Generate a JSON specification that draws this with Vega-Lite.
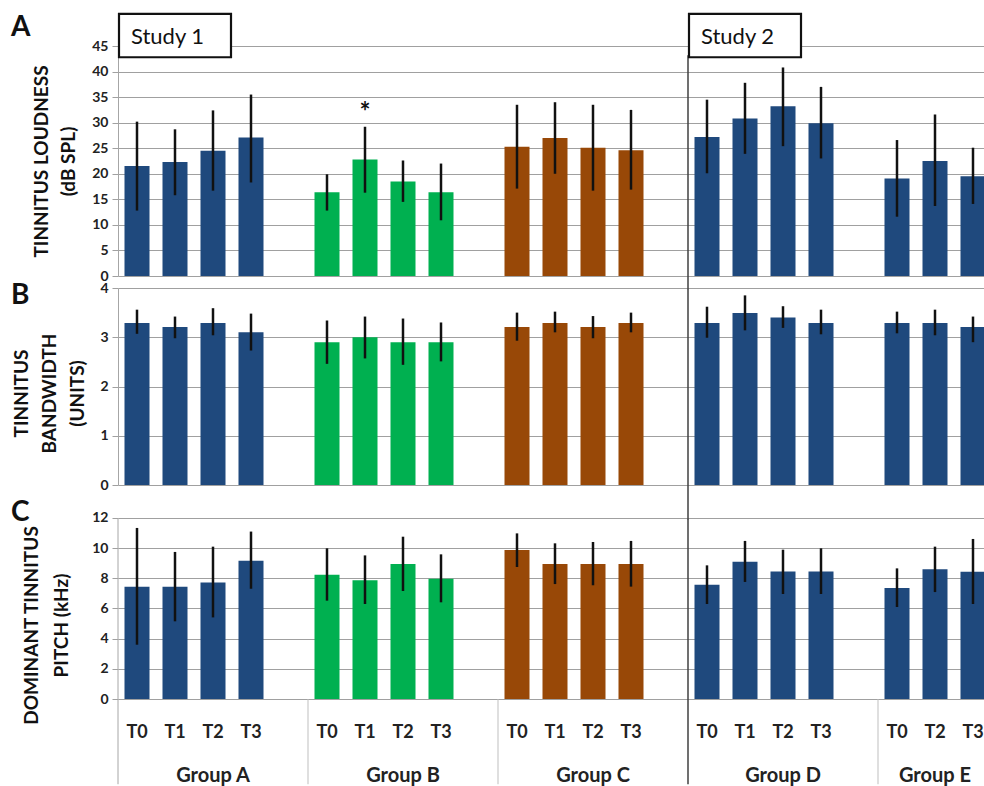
{
  "$schema": "https://vega.github.io/schema/vega-lite/v6.json",
  "padding": {"left": 11, "top": 12, "right": 0, "bottom": 0},
  "background": "white",
  "config": {
    "font": "Lato",
    "view": {"stroke": null},
    "axis": {"labelFont": "Lato", "titleFont": "Lato"},
    "axisY": {"gridColor": "#a0a0a0", "domainColor": "#a6a6a6", "tickColor": "#a0a0a0", "tickSize": 6, "labelFontSize": 14, "labelFontWeight": "bold", "labelColor": "#222222", "labelPadding": 4, "titleFontSize": 19, "titleFontWeight": "bold", "titleColor": "#111111"},
    "axisX": {"grid": false},
    "title": {"font": "Lato", "fontSize": 28, "fontWeight": "bold", "color": "#111111", "anchor": "start", "frame": "group", "baseline": "alphabetic"}
  },
  "datasets": {
    "loud": [
      {"g": "A", "cat": "A|T0", "m": 21.5, "lo": 12.8, "hi": 30.2},
      {"g": "A", "cat": "A|T1", "m": 22.3, "lo": 15.8, "hi": 28.7},
      {"g": "A", "cat": "A|T2", "m": 24.5, "lo": 16.7, "hi": 32.4},
      {"g": "A", "cat": "A|T3", "m": 27.1, "lo": 18.3, "hi": 35.5},
      {"g": "B", "cat": "B|T0", "m": 16.4, "lo": 12.8, "hi": 19.9},
      {"g": "B", "cat": "B|T1", "m": 22.8, "lo": 16.3, "hi": 29.2},
      {"g": "B", "cat": "B|T2", "m": 18.5, "lo": 14.5, "hi": 22.6},
      {"g": "B", "cat": "B|T3", "m": 16.4, "lo": 10.9, "hi": 22.0},
      {"g": "C", "cat": "C|T0", "m": 25.3, "lo": 17.1, "hi": 33.5},
      {"g": "C", "cat": "C|T1", "m": 27.0, "lo": 20.0, "hi": 34.0},
      {"g": "C", "cat": "C|T2", "m": 25.1, "lo": 16.7, "hi": 33.5},
      {"g": "C", "cat": "C|T3", "m": 24.6, "lo": 16.9, "hi": 32.5},
      {"g": "D", "cat": "D|T0", "m": 27.2, "lo": 20.1, "hi": 34.5},
      {"g": "D", "cat": "D|T1", "m": 30.8, "lo": 23.9, "hi": 37.8},
      {"g": "D", "cat": "D|T2", "m": 33.2, "lo": 25.4, "hi": 40.8},
      {"g": "D", "cat": "D|T3", "m": 29.9, "lo": 23.0, "hi": 37.0},
      {"g": "E", "cat": "E|T0", "m": 19.1, "lo": 11.6, "hi": 26.6},
      {"g": "E", "cat": "E|T2", "m": 22.5, "lo": 13.7, "hi": 31.6},
      {"g": "E", "cat": "E|T3", "m": 19.5, "lo": 14.1, "hi": 25.1}
    ],
    "bw": [
      {"g": "A", "cat": "A|T0", "m": 3.29, "lo": 3.07, "hi": 3.56},
      {"g": "A", "cat": "A|T1", "m": 3.21, "lo": 2.98, "hi": 3.42},
      {"g": "A", "cat": "A|T2", "m": 3.29, "lo": 3.04, "hi": 3.59},
      {"g": "A", "cat": "A|T3", "m": 3.10, "lo": 2.73, "hi": 3.48},
      {"g": "B", "cat": "B|T0", "m": 2.90, "lo": 2.46, "hi": 3.34},
      {"g": "B", "cat": "B|T1", "m": 3.00, "lo": 2.57, "hi": 3.42},
      {"g": "B", "cat": "B|T2", "m": 2.90, "lo": 2.44, "hi": 3.38},
      {"g": "B", "cat": "B|T3", "m": 2.90, "lo": 2.51, "hi": 3.30},
      {"g": "C", "cat": "C|T0", "m": 3.21, "lo": 2.93, "hi": 3.50},
      {"g": "C", "cat": "C|T1", "m": 3.29, "lo": 3.10, "hi": 3.52},
      {"g": "C", "cat": "C|T2", "m": 3.21, "lo": 2.98, "hi": 3.43},
      {"g": "C", "cat": "C|T3", "m": 3.29, "lo": 3.10, "hi": 3.50},
      {"g": "D", "cat": "D|T0", "m": 3.29, "lo": 2.99, "hi": 3.62},
      {"g": "D", "cat": "D|T1", "m": 3.49, "lo": 3.14, "hi": 3.85},
      {"g": "D", "cat": "D|T2", "m": 3.40, "lo": 3.19, "hi": 3.63},
      {"g": "D", "cat": "D|T3", "m": 3.29, "lo": 3.06, "hi": 3.56},
      {"g": "E", "cat": "E|T0", "m": 3.29, "lo": 3.08, "hi": 3.52},
      {"g": "E", "cat": "E|T2", "m": 3.29, "lo": 3.04, "hi": 3.56},
      {"g": "E", "cat": "E|T3", "m": 3.21, "lo": 2.90, "hi": 3.42}
    ],
    "pitch": [
      {"g": "A", "cat": "A|T0", "m": 7.45, "lo": 3.60, "hi": 11.34},
      {"g": "A", "cat": "A|T1", "m": 7.45, "lo": 5.15, "hi": 9.75},
      {"g": "A", "cat": "A|T2", "m": 7.73, "lo": 5.41, "hi": 10.10},
      {"g": "A", "cat": "A|T3", "m": 9.17, "lo": 7.31, "hi": 11.10},
      {"g": "B", "cat": "B|T0", "m": 8.24, "lo": 6.52, "hi": 9.99},
      {"g": "B", "cat": "B|T1", "m": 7.87, "lo": 6.30, "hi": 9.52},
      {"g": "B", "cat": "B|T2", "m": 8.95, "lo": 7.16, "hi": 10.76},
      {"g": "B", "cat": "B|T3", "m": 7.98, "lo": 6.41, "hi": 9.59},
      {"g": "C", "cat": "C|T0", "m": 9.88, "lo": 8.75, "hi": 10.98},
      {"g": "C", "cat": "C|T1", "m": 8.95, "lo": 7.62, "hi": 10.32},
      {"g": "C", "cat": "C|T2", "m": 8.95, "lo": 7.54, "hi": 10.41},
      {"g": "C", "cat": "C|T3", "m": 8.95, "lo": 7.45, "hi": 10.48},
      {"g": "D", "cat": "D|T0", "m": 7.58, "lo": 6.30, "hi": 8.86},
      {"g": "D", "cat": "D|T1", "m": 9.10, "lo": 7.76, "hi": 10.48},
      {"g": "D", "cat": "D|T2", "m": 8.46, "lo": 6.96, "hi": 9.90},
      {"g": "D", "cat": "D|T3", "m": 8.46, "lo": 6.96, "hi": 9.99},
      {"g": "E", "cat": "E|T0", "m": 7.36, "lo": 6.10, "hi": 8.66},
      {"g": "E", "cat": "E|T2", "m": 8.60, "lo": 7.09, "hi": 10.10},
      {"g": "E", "cat": "E|T3", "m": 8.44, "lo": 6.30, "hi": 10.61}
    ],
    "study": [{"cat": "A|T1", "label": "Study 1"}, {"cat": "D|T1", "label": "Study 2"}],
    "star": [{"cat": "B|T1", "label": "*"}],
    "divider": [{"cat": "D|T0"}],
    "seps": [{"cat": "B|T0"}, {"cat": "C|T0"}, {"cat": "E|T0"}],
    "yline": [{"cat": "A|T0"}],
    "groups": [
      {"cat": "A|T2", "label": "Group A"},
      {"cat": "B|T2", "label": "Group B"},
      {"cat": "C|T2", "label": "Group C"},
      {"cat": "D|T2", "label": "Group D"},
      {"cat": "E|T2", "label": "Group E"}
    ]
  },
  "spacing": 12,
  "bounds": "flush",
  "vconcat": [
    {
      "width": 866,
      "height": 230,
      "title": {"text": "A", "dx": -107, "offset": -29},
      "layer": [
        {
          "data": {"name": "loud"},
          "mark": {"type": "bar", "width": 25, "clip": true},
          "encoding": {
            "x": {"field": "cat", "type": "nominal", "scale": {"domain": ["A|T0","A|T1","A|T2","A|T3","A|_","B|T0","B|T1","B|T2","B|T3","B|_","C|T0","C|T1","C|T2","C|T3","C|_","D|T0","D|T1","D|T2","D|T3","D|_","E|T0","E|T2","E|T3"], "range": [0, 874], "paddingInner": 0, "paddingOuter": 0}, "axis": null},
            "y": {"field": "m", "type": "quantitative", "scale": {"domain": [0, 45], "nice": false}, "axis": {"title": ["TINNITUS LOUDNESS", "(dB SPL)"], "values": [0, 5, 10, 15, 20, 25, 30, 35, 40, 45], "titleLineHeight": 27, "titlePadding": 13}},
            "color": {"field": "g", "type": "nominal", "scale": {"domain": ["A", "B", "C", "D", "E"], "range": ["#1F497D", "#00B050", "#984807", "#1F497D", "#1F497D"]}, "legend": null}
          }
        },
        {
          "data": {"name": "loud"},
          "mark": {"type": "rule", "color": "#111111", "strokeWidth": 2.5},
          "encoding": {
            "x": {"field": "cat", "type": "nominal", "axis": null},
            "y": {"field": "lo", "type": "quantitative", "axis": {"title": ["TINNITUS LOUDNESS", "(dB SPL)"], "values": [0, 5, 10, 15, 20, 25, 30, 35, 40, 45], "titleLineHeight": 27, "titlePadding": 13}},
            "y2": {"field": "hi"}
          }
        },
        {
          "data": {"name": "star"},
          "mark": {"type": "text", "fontSize": 26, "fontWeight": "bold", "baseline": "alphabetic", "color": "#111111"},
          "encoding": {
            "x": {"field": "cat", "type": "nominal", "axis": null},
            "y": {"datum": 30.4, "type": "quantitative", "axis": {"title": ["TINNITUS LOUDNESS", "(dB SPL)"], "values": [0, 5, 10, 15, 20, 25, 30, 35, 40, 45], "titleLineHeight": 27, "titlePadding": 13}},
            "text": {"field": "label"}
          }
        },
        {
          "data": {"name": "divider"},
          "mark": {"type": "rule", "color": "#404040", "strokeWidth": 1.5},
          "encoding": {
            "x": {"field": "cat", "type": "nominal", "bandPosition": 0, "axis": null},
            "y": {"datum": 43.2, "type": "quantitative", "axis": {"title": ["TINNITUS LOUDNESS", "(dB SPL)"], "values": [0, 5, 10, 15, 20, 25, 30, 35, 40, 45], "titleLineHeight": 27, "titlePadding": 13}},
            "y2": {"datum": -2.6}
          }
        },
        {
          "data": {"name": "study"},
          "mark": {"type": "bar", "width": 112, "fill": "white", "stroke": "#111111", "strokeWidth": 2.2},
          "encoding": {
            "x": {"field": "cat", "type": "nominal", "axis": null},
            "y": {"datum": 51.3, "type": "quantitative", "axis": {"title": ["TINNITUS LOUDNESS", "(dB SPL)"], "values": [0, 5, 10, 15, 20, 25, 30, 35, 40, 45], "titleLineHeight": 27, "titlePadding": 13}},
            "y2": {"datum": 42.8}
          }
        },
        {
          "data": {"name": "study"},
          "mark": {"type": "text", "fontSize": 22, "align": "left", "baseline": "alphabetic", "dx": -44, "color": "#111111"},
          "encoding": {
            "x": {"field": "cat", "type": "nominal", "axis": null},
            "y": {"datum": 45.4, "type": "quantitative", "axis": {"title": ["TINNITUS LOUDNESS", "(dB SPL)"], "values": [0, 5, 10, 15, 20, 25, 30, 35, 40, 45], "titleLineHeight": 27, "titlePadding": 13}},
            "text": {"field": "label"}
          }
        }
      ]
    },
    {
      "width": 866,
      "height": 197,
      "title": {"text": "B", "dx": -107, "offset": -29},
      "layer": [
        {
          "data": {"name": "bw"},
          "mark": {"type": "bar", "width": 25, "clip": true},
          "encoding": {
            "x": {"field": "cat", "type": "nominal", "scale": {"domain": ["A|T0","A|T1","A|T2","A|T3","A|_","B|T0","B|T1","B|T2","B|T3","B|_","C|T0","C|T1","C|T2","C|T3","C|_","D|T0","D|T1","D|T2","D|T3","D|_","E|T0","E|T2","E|T3"], "range": [0, 874], "paddingInner": 0, "paddingOuter": 0}, "axis": null},
            "y": {"field": "m", "type": "quantitative", "scale": {"domain": [0, 4], "nice": false}, "axis": {"title": ["TINNITUS", "BANDWIDTH", "(UNITS)"], "values": [0, 1, 2, 3, 4], "titleLineHeight": 28, "titlePadding": 12, "titleY": 105}},
            "color": {"field": "g", "type": "nominal", "scale": {"domain": ["A", "B", "C", "D", "E"], "range": ["#1F497D", "#00B050", "#984807", "#1F497D", "#1F497D"]}, "legend": null}
          }
        },
        {
          "data": {"name": "bw"},
          "mark": {"type": "rule", "color": "#111111", "strokeWidth": 2.5},
          "encoding": {
            "x": {"field": "cat", "type": "nominal", "axis": null},
            "y": {"field": "lo", "type": "quantitative", "axis": {"title": ["TINNITUS", "BANDWIDTH", "(UNITS)"], "values": [0, 1, 2, 3, 4], "titleLineHeight": 28, "titlePadding": 12, "titleY": 105}},
            "y2": {"field": "hi"}
          }
        },
        {
          "data": {"name": "divider"},
          "mark": {"type": "rule", "color": "#404040", "strokeWidth": 1.5},
          "encoding": {
            "x": {"field": "cat", "type": "nominal", "bandPosition": 0, "axis": null},
            "y": {"datum": 4, "type": "quantitative", "axis": {"title": ["TINNITUS", "BANDWIDTH", "(UNITS)"], "values": [0, 1, 2, 3, 4], "titleLineHeight": 28, "titlePadding": 12, "titleY": 105}},
            "y2": {"datum": -0.7}
          }
        }
      ]
    },
    {
      "width": 866,
      "height": 202,
      "title": {"text": "C", "dx": -107, "offset": -30},
      "layer": [
        {
          "data": {"name": "pitch"},
          "mark": {"type": "bar", "width": 25, "clip": true},
          "encoding": {
            "x": {"field": "cat", "type": "nominal", "scale": {"domain": ["A|T0","A|T1","A|T2","A|T3","A|_","B|T0","B|T1","B|T2","B|T3","B|_","C|T0","C|T1","C|T2","C|T3","C|_","D|T0","D|T1","D|T2","D|T3","D|_","E|T0","E|T2","E|T3"], "range": [0, 874], "paddingInner": 0, "paddingOuter": 0},
              "axis": {"title": null, "ticks": false, "tickSize": 0, "domain": false, "grid": false, "labelExpr": "split(datum.value, '|')[1] == '_' ? '' : split(datum.value, '|')[1]", "labelFontSize": 18, "labelFontWeight": "bold", "labelColor": "#222222", "labelPadding": 24, "labelOverlap": false, "labelAngle": 0}},
            "y": {"field": "m", "type": "quantitative", "scale": {"domain": [0, 13.392], "nice": false}, "axis": {"title": ["DOMINANT TINNITUS", "PITCH (kHz)"], "values": [0, 2, 4, 6, 8, 10, 12], "domain": false, "titleLineHeight": 30, "titlePadding": 20, "titleY": 128}},
            "color": {"field": "g", "type": "nominal", "scale": {"domain": ["A", "B", "C", "D", "E"], "range": ["#1F497D", "#00B050", "#984807", "#1F497D", "#1F497D"]}, "legend": null}
          }
        },
        {
          "data": {"name": "pitch"},
          "mark": {"type": "rule", "color": "#111111", "strokeWidth": 2.5},
          "encoding": {
            "x": {"field": "cat", "type": "nominal", "axis": {"title": null, "ticks": false, "tickSize": 0, "domain": false, "grid": false, "labelExpr": "split(datum.value, '|')[1] == '_' ? '' : split(datum.value, '|')[1]", "labelFontSize": 18, "labelFontWeight": "bold", "labelColor": "#222222", "labelPadding": 24, "labelOverlap": false, "labelAngle": 0}},
            "y": {"field": "lo", "type": "quantitative", "axis": {"title": ["DOMINANT TINNITUS", "PITCH (kHz)"], "values": [0, 2, 4, 6, 8, 10, 12], "domain": false, "titleLineHeight": 30, "titlePadding": 20, "titleY": 128}},
            "y2": {"field": "hi"}
          }
        },
        {
          "data": {"name": "yline"},
          "mark": {"type": "rule", "color": "#a6a6a6", "strokeWidth": 1},
          "encoding": {
            "x": {"field": "cat", "type": "nominal", "bandPosition": 0, "axis": {"title": null, "ticks": false, "tickSize": 0, "domain": false, "grid": false, "labelExpr": "split(datum.value, '|')[1] == '_' ? '' : split(datum.value, '|')[1]", "labelFontSize": 18, "labelFontWeight": "bold", "labelColor": "#222222", "labelPadding": 24, "labelOverlap": false, "labelAngle": 0}},
            "y": {"datum": 12, "type": "quantitative", "axis": {"title": ["DOMINANT TINNITUS", "PITCH (kHz)"], "values": [0, 2, 4, 6, 8, 10, 12], "domain": false, "titleLineHeight": 30, "titlePadding": 20, "titleY": 128}},
            "y2": {"datum": -5.65}
          }
        },
        {
          "data": {"name": "seps"},
          "mark": {"type": "rule", "color": "#bfbfbf", "strokeWidth": 1},
          "encoding": {
            "x": {"field": "cat", "type": "nominal", "bandPosition": 0, "axis": {"title": null, "ticks": false, "tickSize": 0, "domain": false, "grid": false, "labelExpr": "split(datum.value, '|')[1] == '_' ? '' : split(datum.value, '|')[1]", "labelFontSize": 18, "labelFontWeight": "bold", "labelColor": "#222222", "labelPadding": 24, "labelOverlap": false, "labelAngle": 0}},
            "y": {"datum": 0, "type": "quantitative", "axis": {"title": ["DOMINANT TINNITUS", "PITCH (kHz)"], "values": [0, 2, 4, 6, 8, 10, 12], "domain": false, "titleLineHeight": 30, "titlePadding": 20, "titleY": 128}},
            "y2": {"datum": -5.65}
          }
        },
        {
          "data": {"name": "divider"},
          "mark": {"type": "rule", "color": "#404040", "strokeWidth": 1.5},
          "encoding": {
            "x": {"field": "cat", "type": "nominal", "bandPosition": 0, "axis": {"title": null, "ticks": false, "tickSize": 0, "domain": false, "grid": false, "labelExpr": "split(datum.value, '|')[1] == '_' ? '' : split(datum.value, '|')[1]", "labelFontSize": 18, "labelFontWeight": "bold", "labelColor": "#222222", "labelPadding": 24, "labelOverlap": false, "labelAngle": 0}},
            "y": {"datum": 12, "type": "quantitative", "axis": {"title": ["DOMINANT TINNITUS", "PITCH (kHz)"], "values": [0, 2, 4, 6, 8, 10, 12], "domain": false, "titleLineHeight": 30, "titlePadding": 20, "titleY": 128}},
            "y2": {"datum": -5.65}
          }
        },
        {
          "data": {"name": "groups"},
          "mark": {"type": "text", "fontSize": 20, "fontWeight": "bold", "baseline": "alphabetic", "color": "#222222"},
          "encoding": {
            "x": {"field": "cat", "type": "nominal", "axis": {"title": null, "ticks": false, "tickSize": 0, "domain": false, "grid": false, "labelExpr": "split(datum.value, '|')[1] == '_' ? '' : split(datum.value, '|')[1]", "labelFontSize": 18, "labelFontWeight": "bold", "labelColor": "#222222", "labelPadding": 24, "labelOverlap": false, "labelAngle": 0}},
            "y": {"datum": -5.5, "type": "quantitative", "axis": {"title": ["DOMINANT TINNITUS", "PITCH (kHz)"], "values": [0, 2, 4, 6, 8, 10, 12], "domain": false, "titleLineHeight": 30, "titlePadding": 20, "titleY": 128}},
            "text": {"field": "label"}
          }
        }
      ]
    }
  ]
}
